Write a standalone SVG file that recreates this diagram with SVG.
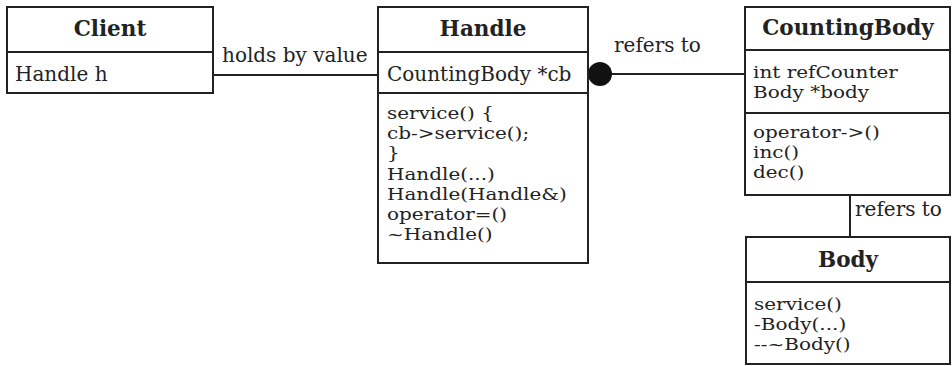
<svg xmlns="http://www.w3.org/2000/svg" width="952" height="366" viewBox="0 0 952 366">
<style>
.box{fill:#fff;stroke:#222;stroke-width:2}
.ln{stroke:#222;stroke-width:2;fill:none}
.t{font-family:"DejaVu Serif","Liberation Serif",serif;font-size:20px;fill:#222}
.s{font-family:"DejaVu Serif","Liberation Serif",serif;font-size:17px;fill:#222}
.h{font-family:"DejaVu Serif","Liberation Serif",serif;font-size:21.5px;font-weight:bold;fill:#222;text-anchor:middle}
</style>
<rect width="952" height="366" fill="#fff"/>
<g id="connectors">
<line class="ln" x1="213" y1="75" x2="378" y2="75"/>
<text class="t" x="222" y="62">holds by value</text>
<line class="ln" x1="600" y1="74" x2="745" y2="74"/>
<circle cx="600" cy="74" r="12" fill="#111"/>
<text class="t" x="614" y="52">refers to</text>
<line class="ln" x1="850" y1="195" x2="850" y2="237"/>
<text class="t" x="855" y="216">refers to</text>
</g>
<g id="client">
<rect class="box" x="7" y="7" width="206" height="86"/>
<line class="ln" x1="7" y1="52" x2="213" y2="52"/>
<text class="h" x="110" y="36">Client</text>
<text class="t" x="15" y="81">Handle h</text>
</g>
<g id="handle">
<rect class="box" x="378" y="7" width="210" height="256"/>
<line class="ln" x1="378" y1="52" x2="588" y2="52"/>
<line class="ln" x1="378" y1="93" x2="588" y2="93"/>
<text class="h" x="483" y="36">Handle</text>
<text class="t" x="387" y="81">CountingBody *cb</text>
<g transform="translate(387 0) scale(1.176 1)">
<text class="s" x="0" y="119">service() {</text>
<text class="s" x="0" y="139">cb-&gt;service();</text>
<text class="s" x="0" y="159">}</text>
<text class="s" x="0" y="180">Handle(...)</text>
<text class="s" x="0" y="200">Handle(Handle&amp;)</text>
<text class="s" x="0" y="220">operator=()</text>
<text class="s" x="0" y="240">~Handle()</text>
</g>
</g>
<g id="countingbody">
<rect class="box" x="745" y="7" width="205" height="188"/>
<line class="ln" x1="745" y1="50" x2="950" y2="50"/>
<line class="ln" x1="745" y1="113" x2="950" y2="113"/>
<text class="h" x="848" y="35">CountingBody</text>
<g transform="translate(753 0) scale(1.176 1)">
<text class="s" x="0" y="78">int refCounter</text>
<text class="s" x="0" y="98">Body *body</text>
<text class="s" x="0" y="138">operator-&gt;()</text>
<text class="s" x="0" y="158">inc()</text>
<text class="s" x="0" y="178">dec()</text>
</g>
</g>
<g id="body">
<rect class="box" x="746" y="237" width="204" height="127"/>
<line class="ln" x1="746" y1="282" x2="950" y2="282"/>
<text class="h" x="848" y="267">Body</text>
<g transform="translate(754 0) scale(1.176 1)">
<text class="s" x="0" y="310">service()</text>
<text class="s" x="0" y="330">-Body(...)</text>
<text class="s" x="0" y="350">--~Body()</text>
</g>
</g>
</svg>
